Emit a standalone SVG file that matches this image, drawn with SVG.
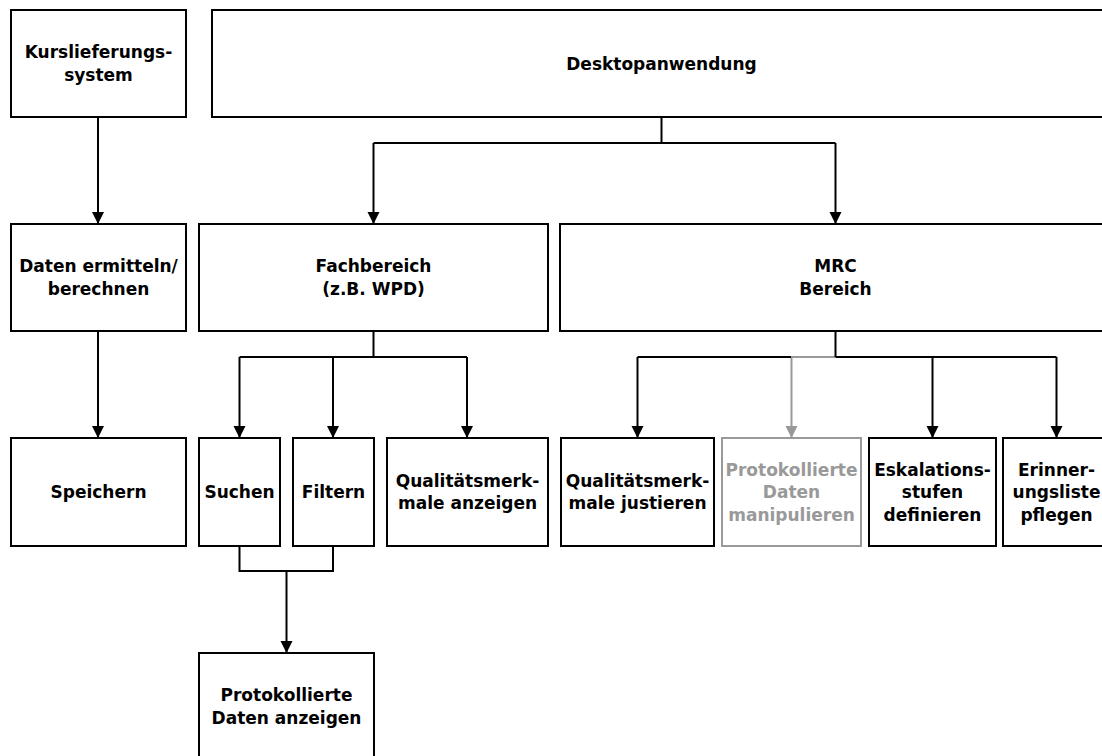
<svg xmlns="http://www.w3.org/2000/svg" width="1102" height="756" viewBox="0 0 1102 756">
<style>
.box{fill:#fff;stroke:#000;stroke-width:2}
.gbox{fill:#fff;stroke:#999;stroke-width:2}
text{font-family:"DejaVu Sans",Verdana,sans-serif;font-weight:bold;font-size:17px;text-anchor:middle;fill:#000}
.g text{fill:#999}
.c{fill:none;stroke:#000;stroke-width:2}
.cg{fill:none;stroke:#999;stroke-width:2}
</style>
<defs>
<marker id="ab" markerUnits="userSpaceOnUse" markerWidth="13" markerHeight="13" refX="12" refY="6.5" orient="auto"><path d="M0,0.5 L12,6.5 L0,12.5 z" fill="#000"/></marker>
<marker id="ag" markerUnits="userSpaceOnUse" markerWidth="13" markerHeight="13" refX="12" refY="6.5" orient="auto"><path d="M0,0.5 L12,6.5 L0,12.5 z" fill="#999"/></marker>
</defs>
<rect width="1102" height="756" fill="#fff"/>
<g id="connectors">
<path class="c" d="M98,117 V224" marker-end="url(#ab)"/>
<path class="c" d="M98,331 V438" marker-end="url(#ab)"/>
<path class="c" d="M661.5,117 V143 M373.5,143 H835.5"/>
<path class="c" d="M373.5,143 V224" marker-end="url(#ab)"/>
<path class="c" d="M835.5,143 V224" marker-end="url(#ab)"/>
<path class="c" d="M373.5,331 V357 M239.5,357 H467"/>
<path class="c" d="M239.5,357 V438" marker-end="url(#ab)"/>
<path class="c" d="M333,357 V438" marker-end="url(#ab)"/>
<path class="c" d="M467,357 V438" marker-end="url(#ab)"/>
<path class="cg" d="M835.5,357 H791.5 V438" marker-end="url(#ag)"/>
<path class="c" d="M835.5,331 V357 M637.5,357 H791 M835.5,357 H1056.5"/>
<path class="c" d="M637.5,357 V438" marker-end="url(#ab)"/>
<path class="c" d="M932.5,357 V438" marker-end="url(#ab)"/>
<path class="c" d="M1056.5,357 V438" marker-end="url(#ab)"/>
<path class="c" d="M239.5,546 V571 H333 V546"/>
<path class="c" d="M286.5,571 V653" marker-end="url(#ab)"/>
</g>
<g id="n1"><rect class="box" x="11" y="10" width="175" height="107"/><text x="98.5" y="58.25">Kurslieferungs-</text><text x="98.5" y="80.75">system</text></g>
<g id="n2"><rect class="box" x="212" y="10" width="898" height="107"/><text x="661.5" y="69.5">Desktopanwendung</text></g>
<g id="n3"><rect class="box" x="11" y="224" width="175" height="107"/><text x="98.5" y="272.25">Daten ermitteln/</text><text x="98.5" y="294.75">berechnen</text></g>
<g id="n4"><rect class="box" x="199" y="224" width="349" height="107"/><text x="373.5" y="272.25">Fachbereich</text><text x="373.5" y="294.75">(z.B. WPD)</text></g>
<g id="n5"><rect class="box" x="560" y="224" width="550" height="107"/><text x="835.5" y="272.25">MRC</text><text x="835.5" y="294.75">Bereich</text></g>
<g id="n6"><rect class="box" x="11" y="438" width="175" height="108"/><text x="98.5" y="498">Speichern</text></g>
<g id="n7"><rect class="box" x="199" y="438" width="81" height="108"/><text x="239.5" y="498">Suchen</text></g>
<g id="n8"><rect class="box" x="293" y="438" width="81" height="108"/><text x="333.5" y="498">Filtern</text></g>
<g id="n9"><rect class="box" x="387" y="438" width="161" height="108"/><text x="467.5" y="486.75">Qualitätsmerk-</text><text x="467.5" y="509.25">male anzeigen</text></g>
<g id="n10"><rect class="box" x="561" y="438" width="153" height="108"/><text x="637.5" y="486.75">Qualitätsmerk-</text><text x="637.5" y="509.25">male justieren</text></g>
<g id="n11" class="g"><rect class="gbox" x="722" y="438" width="139" height="108"/><text x="791.5" y="475.5">Protokollierte</text><text x="791.5" y="498">Daten</text><text x="791.5" y="520.5">manipulieren</text></g>
<g id="n12"><rect class="box" x="869" y="438" width="127" height="108"/><text x="932.5" y="475.5">Eskalations-</text><text x="932.5" y="498">stufen</text><text x="932.5" y="520.5">definieren</text></g>
<g id="n13"><rect class="box" x="1003" y="438" width="107" height="108"/><text x="1056.5" y="475.5">Erinner-</text><text x="1056.5" y="498">ungsliste</text><text x="1056.5" y="520.5">pflegen</text></g>
<g id="n14"><rect class="box" x="199" y="653" width="175" height="107"/><text x="286.5" y="701.25">Protokollierte</text><text x="286.5" y="723.75">Daten anzeigen</text></g>
</svg>
